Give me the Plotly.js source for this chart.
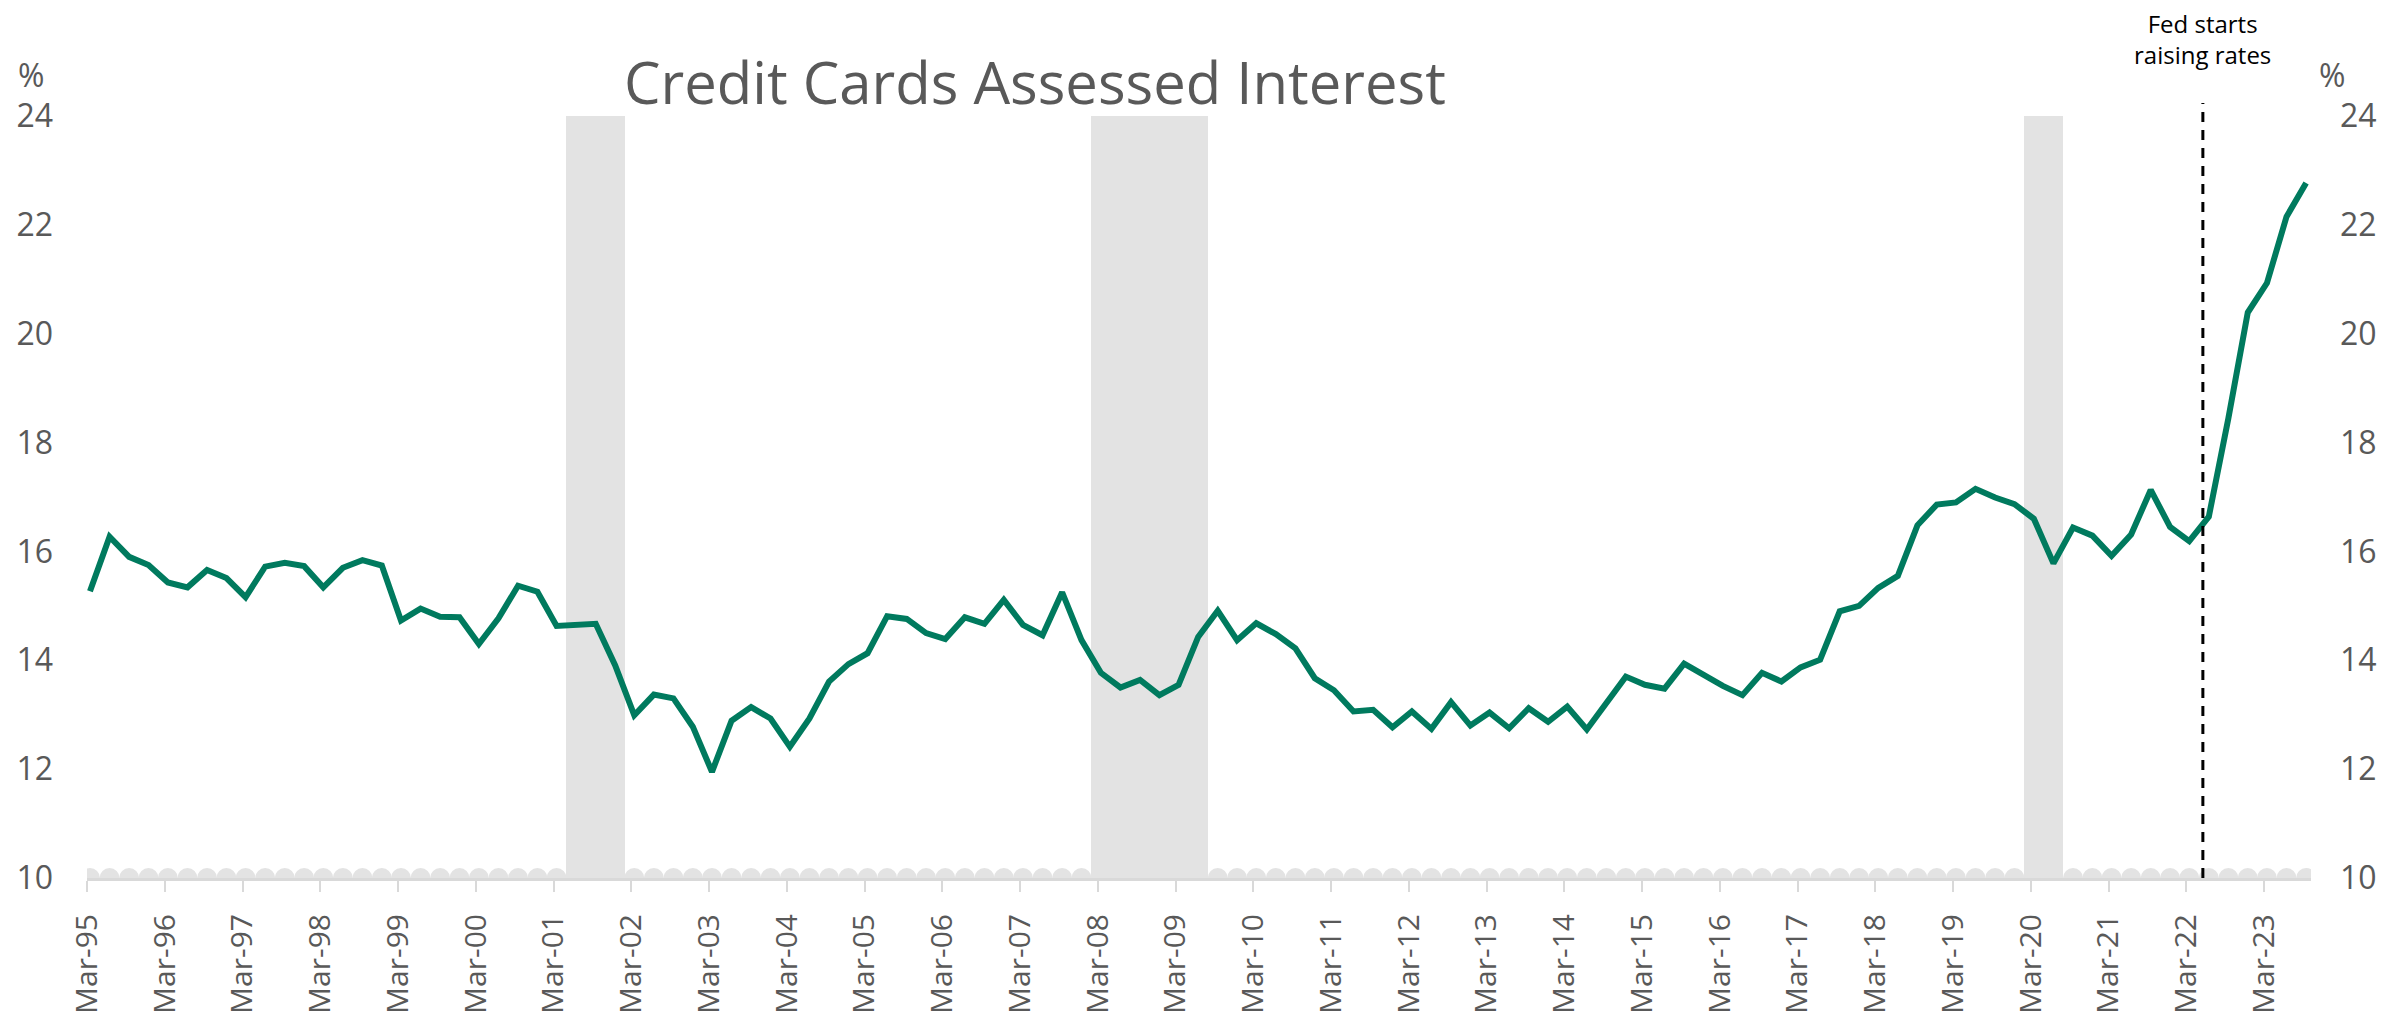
<!DOCTYPE html>
<html>
<head>
<meta charset="utf-8">
<script src="https://cdn.plot.ly/plotly-3.0.1.min.js"></script>
<style>html,body{margin:0;padding:0;background:#fff;}#chart{width:2386px;height:1015px;}</style>
</head>
<body>
<div id="chart"></div>
<script>
// Quarterly observations, Mar-95 .. Sep-23
const startYear = 1995;
const quarterMonths = ['03', '06', '09', '12'];
const interestRate = [
  15.27, 16.27, 15.90, 15.75, 15.43, 15.34, 15.66, 15.51, 15.16, 15.72,
  15.79, 15.73, 15.34, 15.70, 15.84, 15.74, 14.73, 14.95, 14.80, 14.79,
  14.30, 14.77, 15.37, 15.26, 14.63, 14.64, 14.67, 13.91, 12.99, 13.37,
  13.30, 12.78, 11.95, 12.89, 13.14, 12.93, 12.41, 12.93, 13.61, 13.93,
  14.13, 14.81, 14.76, 14.50, 14.39, 14.79, 14.67, 15.11, 14.65, 14.46,
  15.25, 14.37, 13.77, 13.50, 13.64, 13.36, 13.55, 14.43, 14.91, 14.37,
  14.68, 14.48, 14.22, 13.67, 13.45, 13.06, 13.09, 12.77, 13.06, 12.74,
  13.23, 12.80, 13.04, 12.75, 13.12, 12.87, 13.15, 12.73, 13.20, 13.70,
  13.55, 13.48, 13.94, 13.72, 13.53, 13.36, 13.77, 13.61, 13.87, 14.01,
  14.90, 15.00, 15.33, 15.55, 16.48, 16.86, 16.90, 17.15, 16.99, 16.87,
  16.60, 15.78, 16.44, 16.29, 15.92, 16.31, 17.13, 16.45, 16.19, 16.64,
  18.45, 20.39, 20.93, 22.15, 22.77
];
// Recession quarters (shaded)
const recessionQuarters = ['2001-06', '2001-09', '2001-12',
  '2008-03', '2008-06', '2008-09', '2008-12', '2009-03', '2009-06',
  '2020-03', '2020-06'];
const fedHikeDate = '2022-05-18';
const yTicks = [10, 12, 14, 16, 18, 20, 22, 24];
const chartTitle = 'Credit Cards Assessed Interest';
const fedLabel = 'Fed starts<br>raising rates';

// Build quarter dates (mid-month of quarter-end month)
const quarterKeys = [];
const dates = [];
for (let i = 0; i < interestRate.length; i++) {
  const y = startYear + Math.floor(i / 4);
  const m = quarterMonths[i % 4];
  quarterKeys.push(y + '-' + m);
  dates.push(y + '-' + m + '-15');
}
const recDates = [], recVals = [], baseDates = [], baseVals = [];
quarterKeys.forEach((k, i) => {
  if (recessionQuarters.includes(k)) { recDates.push(dates[i]); recVals.push(yTicks[yTicks.length - 1]); }
  else { baseDates.push(dates[i]); baseVals.push(yTicks[0]); }
});

const gray = '#595959';
const fontFam = '"Open Sans", "Noto Sans", sans-serif';
const quarterMs = 91.31 * 24 * 3600 * 1000;

const traces = [
  {
    type: 'bar', x: recDates, y: recVals, width: quarterMs,
    marker: { color: '#e3e3e3', line: { width: 0 } },
    hoverinfo: 'skip', showlegend: false, xaxis: 'x', yaxis: 'y'
  },
  {
    type: 'scatter', mode: 'lines', x: dates, y: interestRate,
    line: { color: '#007A5E', width: 6 },
    showlegend: false, xaxis: 'x', yaxis: 'y'
  },
  {
    type: 'scatter', mode: 'markers', x: baseDates, y: baseVals,
    marker: { color: '#e3e3e3', size: 20, symbol: 'circle', line: { width: 0 } },
    hoverinfo: 'skip', showlegend: false, xaxis: 'x', yaxis: 'y2', cliponaxis: true
  }
];

const yCommon = {
  range: [10, 24], tickvals: yTicks, ticktext: yTicks.map(String),
  showgrid: false, zeroline: false, showline: false, ticks: '',
  tickfont: { family: fontFam, size: 32, color: gray },
  fixedrange: true
};

const layout = {
  width: 2386, height: 1015,
  margin: { l: 87, r: 75, t: 116, b: 137, pad: 0 },
  paper_bgcolor: '#fff', plot_bgcolor: '#fff',
  bargap: 0,
  title: {
    text: chartTitle, font: { family: fontFam, size: 58, color: gray },
    x: 1035 / 2386, xanchor: 'center', xref: 'container',
    y: 1 - 84 / 1015, yanchor: 'middle', yref: 'container'
  },
  xaxis: {
    type: 'date', range: ['1995-03-01', '2023-10-08'],
    tick0: '1995-03-01', dtick: 'M12', tickformat: '%b-%y', tickangle: -90,
    ticks: 'outside', ticklen: 11, tickwidth: 2, tickcolor: '#d9d9d9',
    showline: true, linecolor: '#d9d9d9', linewidth: 3,
    showgrid: false, zeroline: false,
    tickfont: { family: fontFam, size: 30, color: gray }, ticklabelstandoff: 10
  },
  yaxis: Object.assign({}, yCommon, { side: 'left', ticklabelstandoff: 33 }),
  yaxis2: Object.assign({}, yCommon, { side: 'right', overlaying: 'y', ticklabelstandoff: 28 }),
  shapes: [{
    type: 'line', xref: 'x', yref: 'paper', x0: fedHikeDate, x1: fedHikeDate,
    y0: 0, y1: 1.017, line: { color: '#000', width: 3, dash: '10px,8px' }, layer: 'above'
  }],
  annotations: [
    { text: fedLabel, xref: 'x', yref: 'paper', x: fedHikeDate, y: 1.101,
      xanchor: 'center', yanchor: 'middle', showarrow: false,
      font: { family: fontFam, size: 24, color: '#000' } },
    { text: '%', xref: 'paper', yref: 'paper', x: -0.0252, y: 1.054,
      xanchor: 'center', yanchor: 'middle', showarrow: false,
      font: { family: fontFam, size: 32, color: gray } },
    { text: '%', xref: 'paper', yref: 'paper', x: 1.0094, y: 1.054,
      xanchor: 'center', yanchor: 'middle', showarrow: false,
      font: { family: fontFam, size: 32, color: gray } }
  ],
  showlegend: false
};

Plotly.newPlot('chart', traces, layout, { displayModeBar: false, staticPlot: true });
</script>
</body>
</html>
